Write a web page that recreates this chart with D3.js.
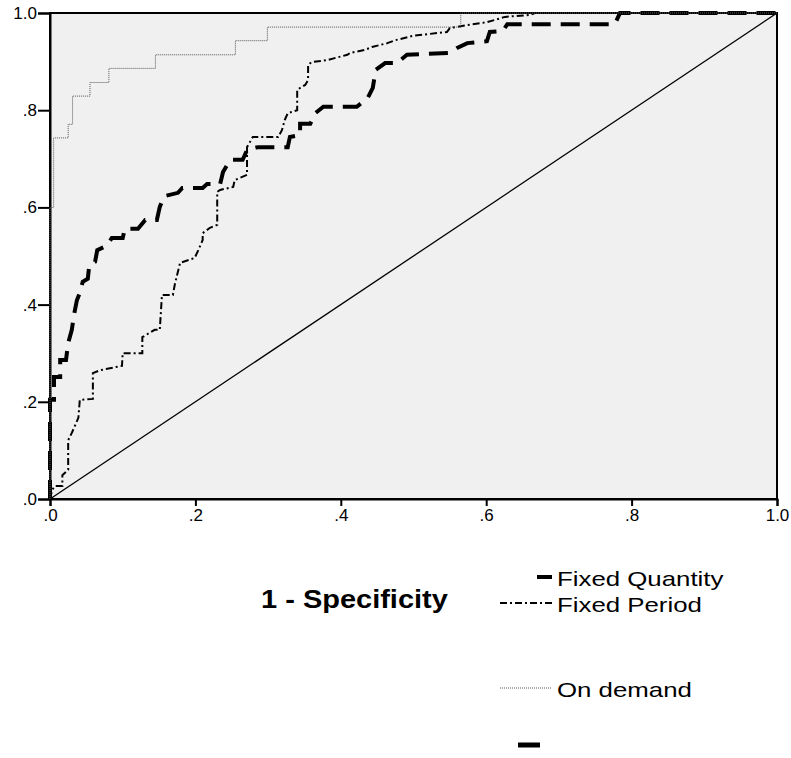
<!DOCTYPE html>
<html lang="en">
<head>
<meta charset="utf-8">
<title>ROC curve</title>
<script src="https://d3js.org/d3.v7.min.js"></script>
<style>
  body { margin: 0; background: #fff; }
  text { font-family: "Liberation Sans", Arial, sans-serif; fill: #000; }
</style>
</head>
<body>
<svg width="791" height="758"></svg>
<script>
// ROC points (1 - specificity, sensitivity)
var fqFpr = [0, 0, 0.0055, 0.0055, 0.014, 0.014, 0.022, 0.025, 0.030, 0.033, 0.037, 0.041, 0.045, 0.052, 0.054, 0.062, 0.065, 0.078, 0.085, 0.100, 0.103, 0.121, 0.131, 0.147, 0.151, 0.157, 0.176, 0.182, 0.210, 0.216, 0.234, 0.238, 0.248, 0.265, 0.271, 0.286, 0.327, 0.330, 0.344, 0.344, 0.358, 0.365, 0.376, 0.422, 0.437, 0.444, 0.448, 0.461, 0.477, 0.491, 0.550, 0.560, 0.574, 0.601, 0.605, 0.623, 0.629, 0.777, 0.784, 1]
var fqTpr = [0, 0.204, 0.204, 0.251, 0.251, 0.286, 0.286, 0.321, 0.348, 0.379, 0.409, 0.424, 0.447, 0.453, 0.481, 0.488, 0.512, 0.521, 0.537, 0.537, 0.556, 0.556, 0.574, 0.574, 0.601, 0.623, 0.630, 0.640, 0.640, 0.648, 0.648, 0.673, 0.698, 0.698, 0.718, 0.724, 0.724, 0.745, 0.749, 0.772, 0.772, 0.794, 0.807, 0.807, 0.825, 0.846, 0.883, 0.897, 0.897, 0.914, 0.918, 0.928, 0.938, 0.942, 0.961, 0.963, 0.977, 0.977, 1, 1]

var fpFpr = [0, 0.003, 0.007, 0.017, 0.017, 0.025, 0.025, 0.030, 0.039, 0.041, 0.059, 0.059, 0.069, 0.099, 0.100, 0.127, 0.127, 0.144, 0.151, 0.154, 0.169, 0.172, 0.179, 0.199, 0.204, 0.210, 0.210, 0.220, 0.230, 0.230, 0.234, 0.252, 0.254, 0.271, 0.271, 0.279, 0.314, 0.319, 0.323, 0.327, 0.340, 0.340, 0.351, 0.355, 0.355, 0.360, 0.381, 0.409, 0.413, 0.433, 0.443, 0.464, 0.475, 0.499, 0.546, 0.550, 0.574, 0.601, 0.626, 0.660, 0.667, 1]
var fpTpr = [0, 0.019, 0.027, 0.027, 0.049, 0.060, 0.121, 0.136, 0.167, 0.204, 0.206, 0.259, 0.265, 0.274, 0.300, 0.300, 0.333, 0.348, 0.348, 0.420, 0.420, 0.444, 0.486, 0.496, 0.512, 0.533, 0.547, 0.558, 0.564, 0.632, 0.636, 0.642, 0.656, 0.667, 0.724, 0.745, 0.745, 0.759, 0.780, 0.794, 0.800, 0.842, 0.852, 0.862, 0.893, 0.899, 0.903, 0.914, 0.918, 0.924, 0.930, 0.938, 0.944, 0.953, 0.961, 0.969, 0.975, 0.981, 0.992, 0.996, 1, 1]

var odFpr = [0, 0, 0.005, 0.005, 0.025, 0.025, 0.031, 0.031, 0.055, 0.055, 0.081, 0.081, 0.145, 0.145, 0.255, 0.255, 0.299, 0.299, 0.565, 0.565, 1]
var odTpr = [0, 0.6, 0.6, 0.743, 0.743, 0.771, 0.771, 0.829, 0.829, 0.857, 0.857, 0.886, 0.886, 0.914, 0.914, 0.943, 0.943, 0.971, 0.971, 1, 1]

var tickValues = [0, 0.2, 0.4, 0.6, 0.8, 1]
var tickLabels = [".0", ".2", ".4", ".6", ".8", "1.0"]
var seriesNames = ["Fixed Quantity", "Fixed Period", "On demand"]

var svg = d3.select("svg")
var plotL = 50, plotR = 777, plotT = 13, plotB = 499

var x = d3.scaleLinear().domain([0, 1]).range([plotL, plotR])
var y = d3.scaleLinear().domain([0, 1]).range([plotB, plotT])

// plot background + frame
svg.append("rect").attr("x", plotL).attr("y", plotT).attr("width", plotR - plotL).attr("height", plotB - plotT)
  .attr("fill", "#f0f0f0").attr("stroke", "#000").attr("stroke-width", 2)

// axes
svg.append("g").attr("transform", "translate(" + plotL + ",0)")
  .call(d3.axisLeft(y).tickValues(tickValues).tickSize(12).tickPadding(1).tickFormat(function(d, i) { return tickLabels[i] }))
svg.append("g").attr("transform", "translate(0," + plotB + ")")
  .call(d3.axisBottom(x).tickValues(tickValues).tickSize(7).tickPadding(3).tickFormat(function(d, i) { return tickLabels[i] }))
svg.selectAll(".domain").attr("stroke", "#000").attr("stroke-width", 2)
svg.selectAll(".tick line").attr("stroke", "#000").attr("stroke-width", 2)
svg.selectAll(".tick text").style("font-size", "17px").attr("fill", "#000")

// reference diagonal
svg.append("line").attr("x1", x(0)).attr("y1", y(0)).attr("x2", x(1)).attr("y2", y(1))
  .attr("stroke", "#000").attr("stroke-width", 1.3)

function pts(fx, ty) { return fx.map(function(v, i) { return [v, ty[i]] }) }
var line = d3.line().x(function(d) { return x(d[0]) }).y(function(d) { return y(d[1]) })

var styles = [
  { w: 4, dash: "19,10", color: "#000" },
  { w: 2, dash: "7,3,2,3", color: "#000" },
  { w: 1, dash: "1,1", color: "#555" }
]
var data = [pts(fqFpr, fqTpr), pts(fpFpr, fpTpr), pts(odFpr, odTpr)]

svg.append("g").selectAll("path").data(data).enter().append("path")
  .attr("d", line)
  .attr("fill", "none")
  .attr("stroke", function(d, i) { return styles[i].color })
  .attr("stroke-width", function(d, i) { return styles[i].w })
  .attr("stroke-dasharray", function(d, i) { return styles[i].dash })

// axis title
svg.append("text").attr("transform", "translate(261,608) scale(1.16,1)")
  .style("font-size", "25px").style("font-weight", "bold").text("1 - Specificity")

// legend
var legendY = [577, 603, 688]
var legendX1 = [537, 500, 500]
svg.append("g").selectAll("line").data(seriesNames).enter().append("line")
  .attr("x1", function(d, i) { return legendX1[i] }).attr("x2", 552)
  .attr("y1", function(d, i) { return legendY[i] }).attr("y2", function(d, i) { return legendY[i] })
  .attr("stroke", function(d, i) { return styles[i].color })
  .attr("stroke-width", function(d, i) { return i == 0 ? 4 : styles[i].w })
  .attr("stroke-dasharray", function(d, i) { return i == 0 ? null : styles[i].dash })
svg.append("g").selectAll("text").data(seriesNames).enter().append("text")
  .attr("transform", function(d, i) { return "translate(557," + (legendY[i] + 9) + ") scale(1.23,1)" })
  .style("font-size", "21px").attr("fill", "#222")
  .text(function(d) { return d })

// stray legend mark at the bottom
svg.append("line").attr("x1", 518).attr("x2", 540).attr("y1", 745).attr("y2", 745)
  .attr("stroke", "#000").attr("stroke-width", 5)
</script>
</body>
</html>
